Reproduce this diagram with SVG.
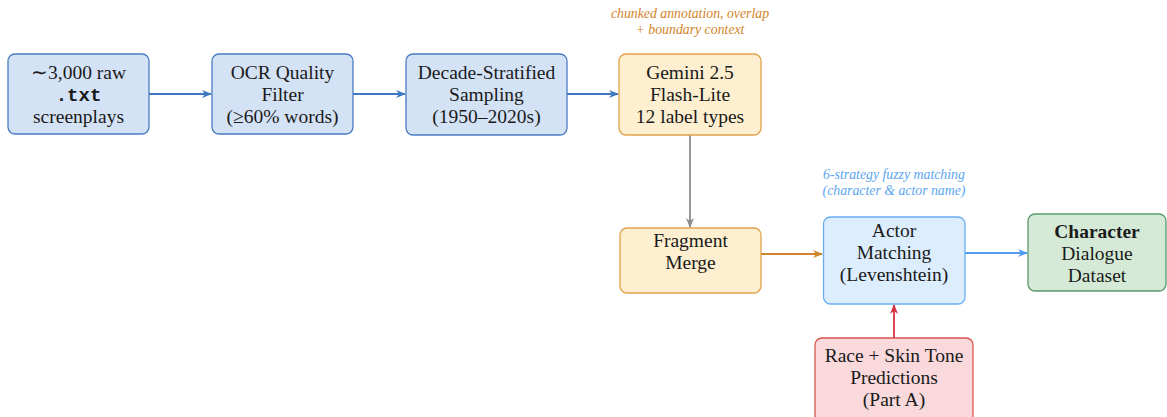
<svg xmlns="http://www.w3.org/2000/svg" width="1167" height="417" viewBox="0 0 1167 417">
<defs>
<style>
.t{font-family:"Liberation Serif",serif;font-size:19.5px;fill:#1a1a1a;text-anchor:middle}
.m{font-family:"Liberation Mono",monospace;font-size:19px;font-weight:bold}
.a{font-family:"Liberation Serif",serif;font-size:13.8px;font-style:italic;text-anchor:middle}
.blue rect{fill:#d3e2f5;stroke:#4a7cc2;stroke-width:1.3}
.org rect{fill:#fdefcf;stroke:#e0a24c;stroke-width:1.3}
.lb rect{fill:#dcedfd;stroke:#6aaef3;stroke-width:1.3}
.grn rect{fill:#d4ead6;stroke:#5b9a6b;stroke-width:1.3}
.red rect{fill:#f9d9dc;stroke:#d9534f;stroke-width:1.3}
.c{fill:none;stroke-width:1.8}
</style>
<marker id="ab" markerWidth="10" markerHeight="8" refX="9" refY="4" orient="auto" markerUnits="userSpaceOnUse"><path d="M0,0 L10,4 L0,8 L3,4 Z" fill="#3e78c2"/></marker>
<marker id="ag" markerWidth="10" markerHeight="8" refX="9" refY="4" orient="auto" markerUnits="userSpaceOnUse"><path d="M0,0 L10,4 L0,8 L3,4 Z" fill="#8c8c8c"/></marker>
<marker id="ao" markerWidth="10" markerHeight="8" refX="9" refY="4" orient="auto" markerUnits="userSpaceOnUse"><path d="M0,0 L10,4 L0,8 L3,4 Z" fill="#d2842a"/></marker>
<marker id="al" markerWidth="10" markerHeight="8" refX="9" refY="4" orient="auto" markerUnits="userSpaceOnUse"><path d="M0,0 L10,4 L0,8 L3,4 Z" fill="#4f9cf0"/></marker>
<marker id="ar" markerWidth="10" markerHeight="8" refX="9" refY="4" orient="auto" markerUnits="userSpaceOnUse"><path d="M0,0 L10,4 L0,8 L3,4 Z" fill="#d7333f"/></marker>
</defs>
<rect width="1167" height="417" fill="#ffffff"/>

<g id="connectors">
<line class="c" x1="149" y1="94" x2="211" y2="94" stroke="#3e78c2" marker-end="url(#ab)"/>
<line class="c" x1="353" y1="94" x2="405" y2="94" stroke="#3e78c2" marker-end="url(#ab)"/>
<line class="c" x1="567" y1="94" x2="618" y2="94" stroke="#3e78c2" marker-end="url(#ab)"/>
<line class="c" x1="690" y1="135" x2="690" y2="227" stroke="#8c8c8c" marker-end="url(#ag)"/>
<line class="c" x1="761" y1="254" x2="822" y2="254" stroke="#d2842a" marker-end="url(#ao)"/>
<line class="c" x1="965" y1="253" x2="1027" y2="253" stroke="#4f9cf0" marker-end="url(#al)"/>
<line class="c" x1="894" y1="338" x2="894" y2="305" stroke="#d7333f" marker-end="url(#ar)"/>
</g>

<g id="note-gemini">
<text class="a" x="690" y="18" fill="#d2842a">chunked annotation, overlap</text>
<text class="a" x="690" y="34" fill="#d2842a">+ boundary context</text>
</g>
<g id="note-actor">
<text class="a" x="894" y="179" fill="#5aa5f2">6-strategy fuzzy matching</text>
<text class="a" x="894" y="195" fill="#5aa5f2">(character &amp; actor name)</text>
</g>

<g id="raw" class="blue">
<rect x="8" y="54" width="141" height="80" rx="7"/>
<text class="t" x="78.5" y="79">∼3,000 raw</text>
<text class="t" x="78.5" y="101"><tspan class="m">.txt</tspan></text>
<text class="t" x="78.5" y="123">screenplays</text>
</g>
<g id="ocr" class="blue">
<rect x="212" y="54" width="141" height="80" rx="7"/>
<text class="t" x="282.5" y="79">OCR Quality</text>
<text class="t" x="282.5" y="101">Filter</text>
<text class="t" x="282.5" y="123">(≥60% words)</text>
</g>
<g id="sampling" class="blue">
<rect x="406" y="54" width="161" height="81" rx="7"/>
<text class="t" x="486.5" y="79">Decade-Stratified</text>
<text class="t" x="486.5" y="101">Sampling</text>
<text class="t" x="486.5" y="123">(1950–2020s)</text>
</g>
<g id="gemini" class="org">
<rect x="619" y="54" width="142" height="81" rx="7"/>
<text class="t" x="690" y="79">Gemini 2.5</text>
<text class="t" x="690" y="101">Flash-Lite</text>
<text class="t" x="690" y="123">12 label types</text>
</g>
<g id="merge" class="org">
<rect x="620" y="228" width="141" height="65" rx="7"/>
<text class="t" x="690.5" y="247">Fragment</text>
<text class="t" x="690.5" y="269">Merge</text>
</g>
<g id="actor" class="lb">
<rect x="823.5" y="217" width="141.5" height="87" rx="7"/>
<text class="t" x="894" y="237">Actor</text>
<text class="t" x="894" y="259">Matching</text>
<text class="t" x="894" y="281">(Levenshtein)</text>
</g>
<g id="dataset" class="grn">
<rect x="1028" y="214" width="138" height="77" rx="7"/>
<text class="t" x="1097" y="238" font-weight="bold">Character</text>
<text class="t" x="1097" y="260">Dialogue</text>
<text class="t" x="1097" y="282">Dataset</text>
</g>
<g id="race" class="red">
<rect x="815" y="338" width="158" height="84" rx="7"/>
<text class="t" x="894" y="362">Race + Skin Tone</text>
<text class="t" x="894" y="384">Predictions</text>
<text class="t" x="894" y="406">(Part A)</text>
</g>
</svg>
